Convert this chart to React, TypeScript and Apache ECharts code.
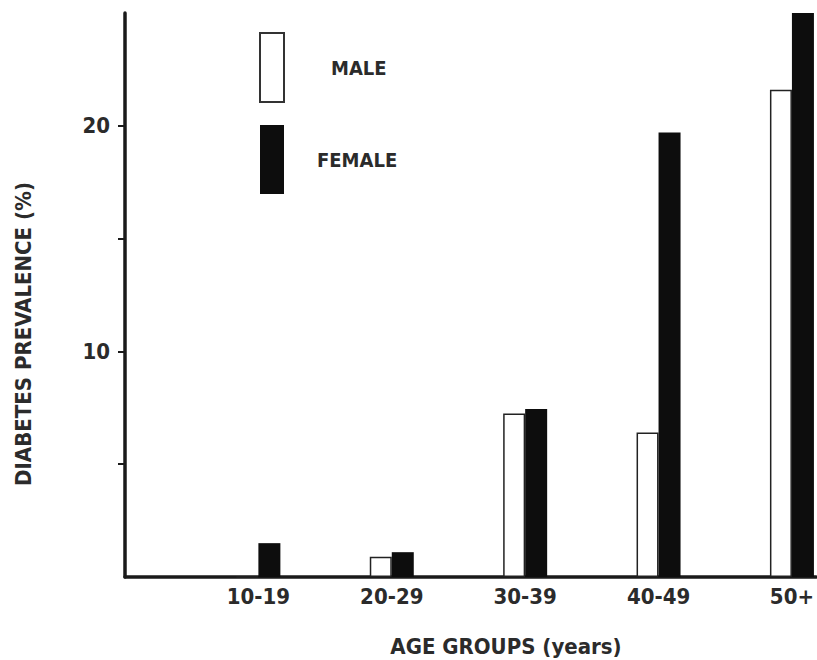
import React, { useEffect, useRef } from "react";
import * as echarts from "echarts";

const categories = ["10-19", "20-29", "30-39", "40-49", "50+"];
const maleValues = [0, 0.9, 7.25, 6.4, 21.6];
const femaleValues = [1.5, 1.1, 7.45, 19.7, 25];
const yTickValues = [5, 10, 15, 20];
const yTickLabels = [10, 20];

const FONT = "'DejaVu Sans Condensed', 'DejaVu Sans', sans-serif";
const INK = "#1a1a1a";
const TEXT = "#2b2b2b";

export default function App() {
  const ref = useRef<HTMLDivElement>(null);
  useEffect(() => {
    if (!ref.current) return;
    const chart = echarts.init(ref.current, undefined, { renderer: "svg" });
    const option = {
      animation: false,
      backgroundColor: "#fff",
      grid: { left: 125, right: 0, top: 13, bottom: 83, containLabel: false },
      legend: {
        orient: "vertical",
        left: 259,
        top: 32,
        padding: 0,
        itemWidth: 24,
        itemHeight: 69,
        itemGap: 22,
        selectedMode: false,
        icon: "rect",
        textStyle: { fontFamily: FONT, fontSize: 20, fontWeight: "bold", color: TEXT },
        data: [
          {
            name: "MALE",
            itemStyle: { color: "#fff", borderColor: "#333", borderWidth: 2 },
            textStyle: { padding: [0, 0, 0, 42] },
          },
          {
            name: "FEMALE",
            itemStyle: { color: "#0d0d0d", borderWidth: 0 },
            textStyle: { padding: [0, 0, 0, 28] },
          },
        ],
      },
      xAxis: {
        type: "value",
        min: 0,
        max: 5.18,
        interval: 1,
        splitLine: { show: false },
        axisTick: { show: false },
        axisLine: { show: true, lineStyle: { color: INK, width: 3.5 } },
        axisLabel: {
          margin: 8,
          fontFamily: FONT,
          fontSize: 22,
          fontWeight: "bold",
          color: TEXT,
          showMinLabel: false,
          showMaxLabel: false,
          formatter: (v: number) => {
            const i = Math.round(v) - 1;
            return Math.abs(v - Math.round(v)) < 1e-6 && i >= 0 && i < categories.length ? categories[i] : "";
          },
        },
      },
      yAxis: {
        type: "value",
        min: 0,
        max: 25,
        interval: 5,
        splitLine: { show: false },
        axisLine: { show: true, lineStyle: { color: INK, width: 3.5 } },
        axisTick: {
          show: true,
          inside: false,
          length: 7,
          customValues: yTickValues,
          lineStyle: { color: INK, width: 2 },
        },
        axisLabel: {
          margin: 15,
          fontFamily: FONT,
          fontSize: 22,
          fontWeight: "bold",
          color: TEXT,
          customValues: yTickLabels,
          formatter: (v: number) => (yTickLabels.indexOf(v) >= 0 ? String(v) : ""),
        },
      },
      series: [
        {
          name: "MALE",
          type: "bar",
          barWidth: 22,
          barGap: "0%",
          data: categories.map((c, i) => [i + 1, maleValues[i]]),
          itemStyle: { color: "#fff", borderColor: "#222", borderWidth: 1.5 },
        },
        {
          name: "FEMALE",
          type: "bar",
          barWidth: 22,
          barGap: "0%",
          data: categories.map((c, i) => [i + 1, femaleValues[i]]),
          itemStyle: { color: "#0d0d0d" },
        },
      ],
      graphic: [
        {
          type: "text",
          x: 23,
          y: 334,
          rotation: Math.PI / 2,
          style: {
            text: "DIABETES PREVALENCE (%)",
            fontFamily: FONT,
            fontSize: 22,
            fontWeight: "bold",
            fill: TEXT,
            align: "center",
            verticalAlign: "middle",
          },
        },
        {
          type: "text",
          x: 506,
          y: 646,
          style: {
            text: "AGE GROUPS (years)",
            fontFamily: FONT,
            fontSize: 22,
            fontWeight: "bold",
            fill: TEXT,
            align: "center",
            verticalAlign: "middle",
          },
        },
      ],
    };
    chart.setOption(option as any);
    return () => chart.dispose();
  }, []);
  return <div ref={ref} style={{ width: 817, height: 660, position: "absolute", left: 0, top: 0 }} />;
}
